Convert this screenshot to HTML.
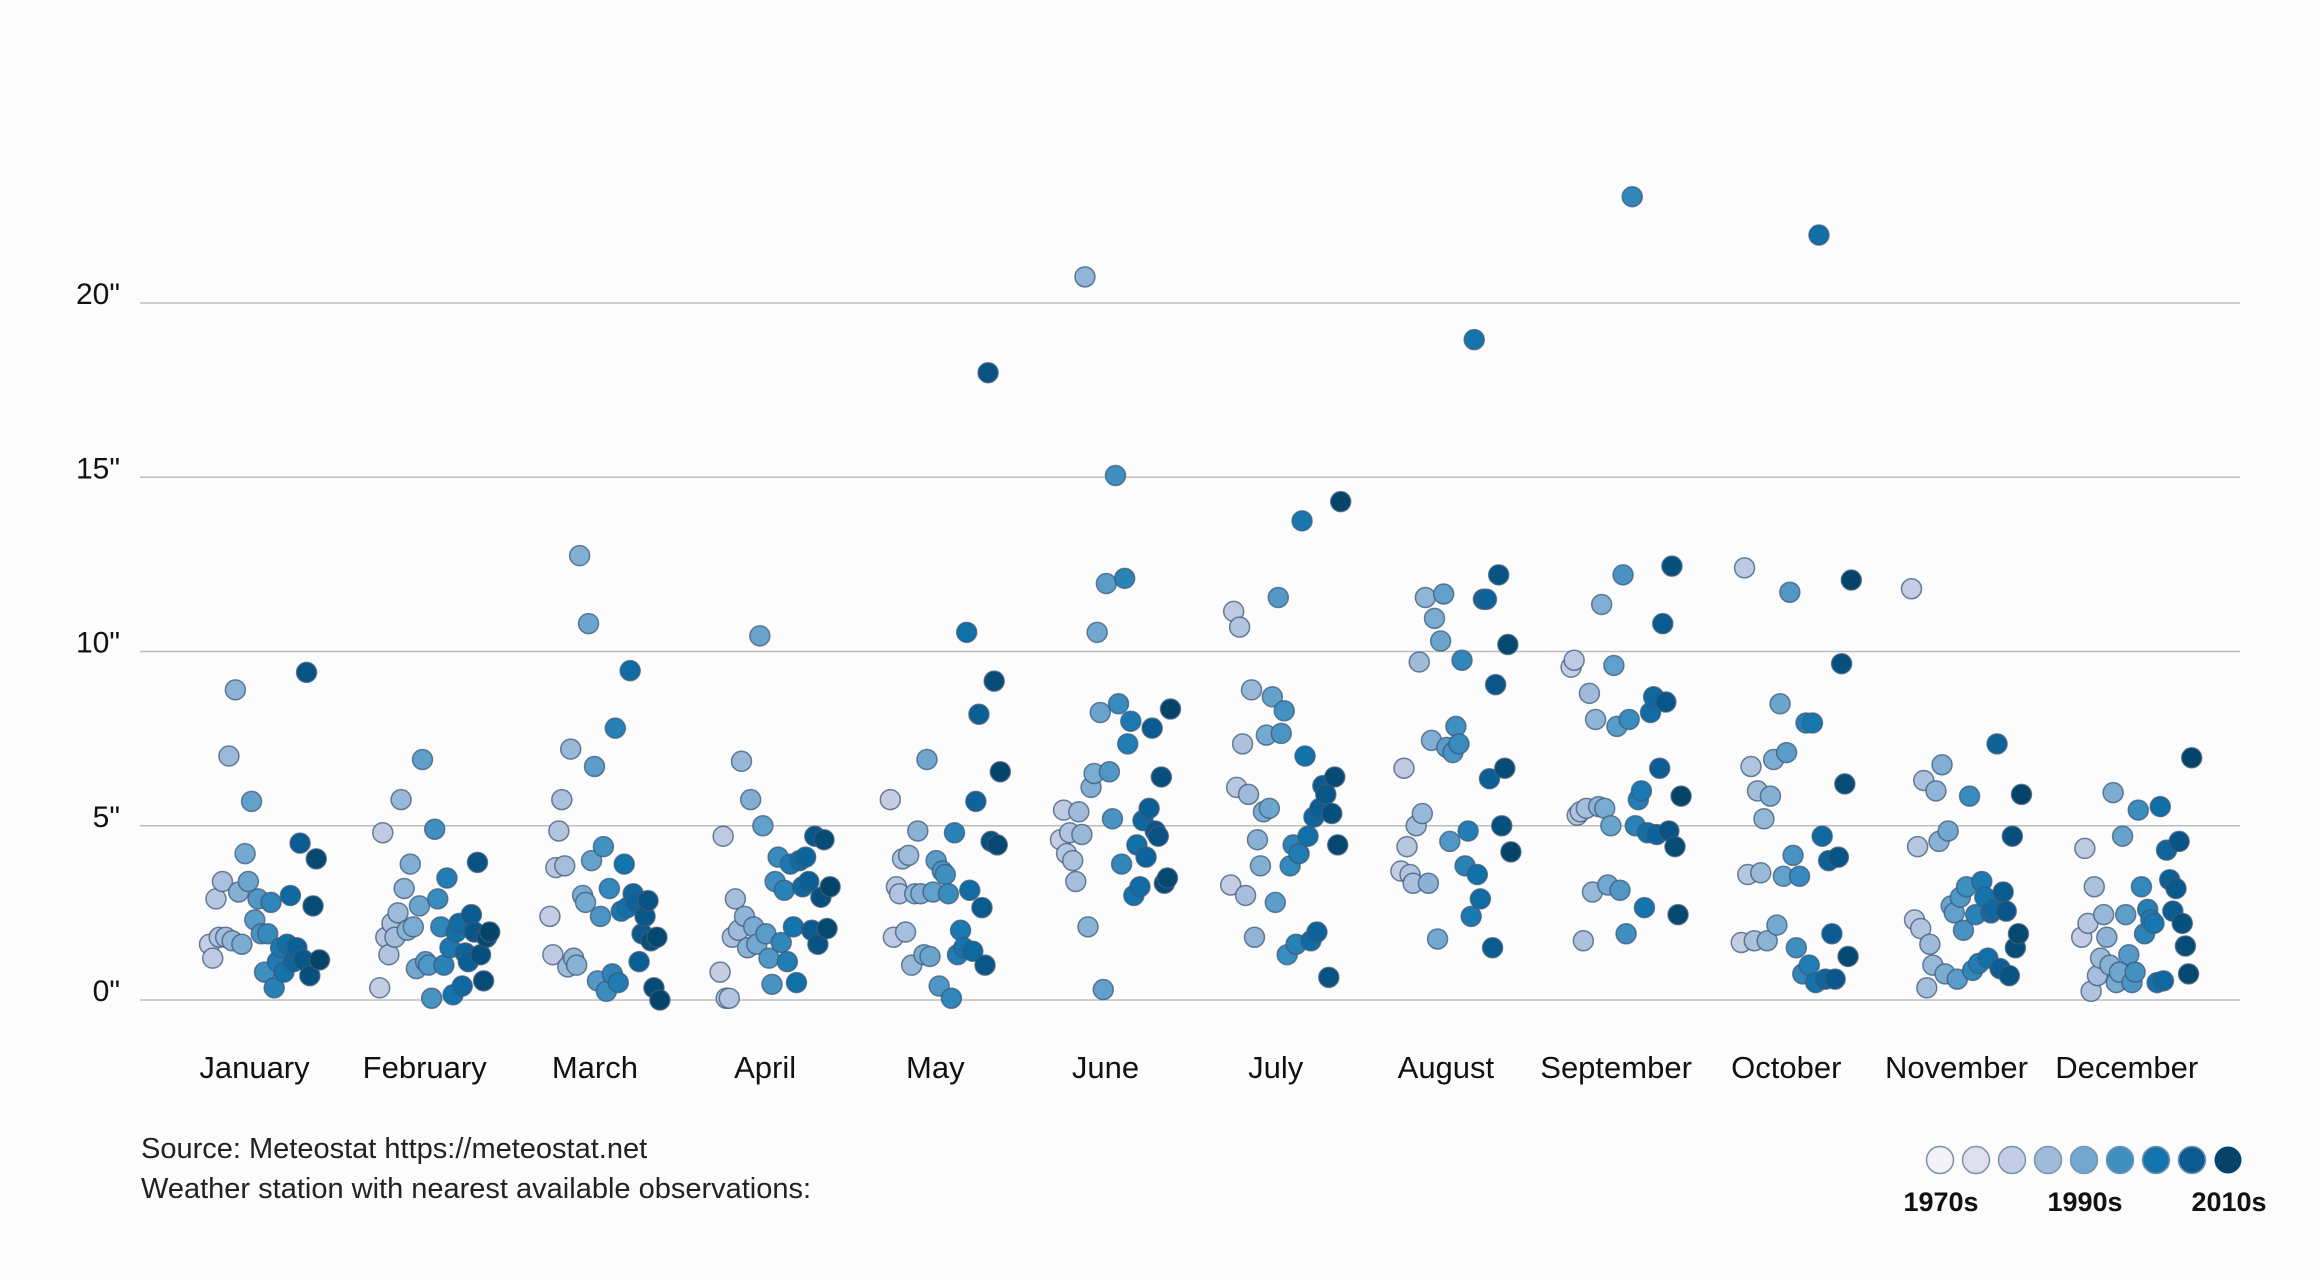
<!DOCTYPE html>
<html><head><meta charset="utf-8">
<style>
html,body{margin:0;padding:0;background:#fdfcfd;}
svg{display:block;font-family:"Liberation Sans",sans-serif;}
</style></head>
<body>
<svg id="chart" width="2320" height="1280" viewBox="0 0 2320 1280" xmlns="http://www.w3.org/2000/svg">
<rect width="2320" height="1280" fill="#fdfcfd"/>
<g id="grid"></g>
<g id="yticks"></g>
<g id="points"></g>
<g id="xlabels"></g>
<text x="141" y="1158" font-size="29" fill="#222" font-weight="300">Source: Meteostat https://meteostat.net</text>
<text x="141" y="1198" font-size="29" fill="#222" font-weight="300">Weather station with nearest available observations:</text>
<g id="legend"></g>
</svg>
<script>
const months = ["January","February","March","April","May","June","July","August","September","October","November","December"];
const yTicks = [0,5,10,15,20];
const palette = ["#f4f0f7","#e0dfee","#c5cde4","#9fbbd9","#72a8cf","#3f8fc0","#1474ae","#0a5b90","#044469"];
const legendLabels = ["1970s","1990s","2010s"];
const janVals = [1.6,1.2,2.9,1.8,3.4,1.8,7.0,1.7,8.9,3.1,1.6,4.2,3.4,5.7,2.3,2.9,1.9,0.8,1.9,2.8,0.35,1.1,1.5,0.8,1.6,3.0,1.1,1.5,4.5,1.15,9.4,0.7,2.7,4.05,1.15];
const febVals = [0.35,4.8,1.8,1.3,2.2,1.8,2.5,5.75,3.2,2.0,3.9,2.1,0.9,2.7,6.9,1.1,1.0,0.05,4.9,2.9,2.1,1.0,3.5,1.5,0.15,1.95,2.2,0.4,1.35,1.1,2.45,1.95,3.95,1.3,0.55,1.8,1.95];
const marVals = [2.4,1.3,3.8,4.85,5.75,3.85,0.95,7.2,1.2,1.0,12.75,3.0,2.8,10.8,4.0,6.7,0.55,2.4,4.4,0.25,3.2,0.75,7.8,0.5,2.55,3.9,2.65,9.45,3.05,2.8,1.1,1.9,2.4,2.85,1.7,0.35,1.8,0.0];
const aprVals = [0.8,4.7,0.05,0.05,1.8,2.9,2.0,6.85,2.4,1.5,5.75,2.1,1.6,10.45,5.0,1.9,1.2,0.45,3.4,4.1,1.65,3.15,1.1,3.9,2.1,0.5,4.0,3.25,4.1,3.4,2.0,4.7,1.6,2.95,4.6,2.05,3.25];
const mayVals = [5.75,1.8,3.25,3.05,4.05,1.95,4.15,1.0,3.05,4.85,3.05,1.3,6.9,1.25,3.1,4.0,0.4,3.7,3.6,3.05,0.05,4.8,1.3,2.0,1.5,10.55,3.15,1.4,5.7,8.2,2.65,1.0,18.0,4.55,9.15,4.45,6.55];
const junVals = [4.6,5.45,4.2,4.8,4.0,3.4,5.4,4.75,20.75,2.1,6.1,6.5,10.55,8.25,0.3,11.95,6.55,5.2,15.05,8.5,3.9,12.1,7.35,8.0,3.0,4.45,3.25,5.15,4.1,5.5,7.8,4.85,4.7,6.4,3.35,3.5,8.35];
const julVals = [3.3,11.15,6.1,10.7,7.35,3.0,5.9,8.9,1.8,4.6,3.85,5.4,7.6,5.5,8.7,2.8,11.55,7.65,8.3,1.3,3.85,4.45,1.6,4.2,13.75,7.0,4.7,1.7,5.25,1.95,5.5,6.15,5.9,0.65,5.35,6.4,4.45,14.3];
const augVals = [3.7,6.65,4.4,3.6,3.35,5.0,9.7,5.35,11.55,3.35,7.45,10.95,1.75,10.3,11.65,7.25,4.55,7.1,7.85,7.35,9.75,3.85,4.85,2.4,18.95,3.6,2.9,11.5,11.5,6.35,1.5,9.05,12.2,5.0,6.65,10.2,4.25];
const sepVals = [9.55,9.75,5.3,5.4,1.7,5.5,8.8,3.1,8.05,5.55,11.35,5.5,3.3,5.0,9.6,7.85,3.15,12.2,1.9,8.05,23.05,5.0,5.75,6.0,2.65,4.8,8.25,8.7,4.75,6.65,10.8,8.55,4.85,12.45,4.4,2.45,5.85];
const octVals = [1.65,12.4,3.6,6.7,1.7,6.0,3.65,5.2,1.7,5.85,6.9,2.15,8.5,3.55,7.1,11.7,4.15,1.5,3.55,0.75,7.95,1.0,7.95,0.5,21.95,4.7,0.6,4.0,1.9,0.6,4.1,9.65,6.2,1.25,12.05];
const novVals = [11.8,2.3,4.4,2.05,6.3,0.35,1.6,1.0,6.0,4.55,6.75,0.75,4.85,2.7,2.5,0.6,2.95,2.0,3.25,5.85,0.85,2.45,1.05,3.4,2.95,1.2,2.5,2.6,7.35,0.9,3.1,2.55,0.7,4.7,1.5,1.9,5.9];
const decVals = [1.8,4.35,2.2,0.25,3.25,0.7,1.2,2.45,1.8,1.0,5.95,0.5,0.8,4.7,2.45,1.3,0.5,0.8,5.45,3.25,1.9,2.6,2.3,2.2,0.5,5.55,0.55,4.3,3.45,2.55,3.2,4.55,2.2,1.55,0.75,6.95];
const monthVals = [janVals,febVals,marVals,aprVals,mayVals,junVals,julVals,augVals,sepVals,octVals,novVals,decVals];

const NS="http://www.w3.org/2000/svg";
const yScale = v => 1000 - v*34.85;
const xScale = i => 254.5 + 170.2*i;
const BAND = 110;
const PT_SHIFT = 10;
function mk(tag, attrs, parent){const e=document.createElementNS(NS,tag);for(const k in attrs)e.setAttribute(k,attrs[k]);parent.appendChild(e);return e;}
function hex(h){return [1,3,5].map(i=>parseInt(h.substr(i,2),16));}
function colorAt(t){const p=t*(palette.length-1);const i=Math.min(Math.floor(p),palette.length-2);const f=p-i;const a=hex(palette[i]),b=hex(palette[i+1]);return "rgb("+a.map((c,k)=>Math.round(c+(b[k]-c)*f)).join(",")+")";}

const grid=document.getElementById('grid'), yt=document.getElementById('yticks');
yTicks.forEach(v=>{
  const l=mk('line',{x1:140,x2:2240,y1:yScale(v),y2:yScale(v),stroke:"#bdbdbd","stroke-width":1.5},grid);
  
  
  const t=mk('text',{x:120,y:yScale(v)+1,"text-anchor":"end","font-size":30,fill:"#111"},yt);
  t.textContent=v+'"';
  
  
});
const pts=document.getElementById('points'), xl=document.getElementById('xlabels');
months.forEach((m,mi)=>{
  const vals=monthVals[mi], n=vals.length;
  vals.forEach((v,i)=>{
    const t=i/(n-1);
    const c=mk('circle',{cx:xScale(mi)+PT_SHIFT+(t-0.5)*BAND,cy:yScale(v),r:10,fill:colorAt(0.25+0.75*t),stroke:"rgba(60,90,120,0.75)","stroke-width":1.5},pts);
    
    
  });
  const t=mk('text',{x:xScale(mi),y:1078,"text-anchor":"middle","font-size":31,fill:"#111"},xl);
  t.textContent=m;
  
  
});
const lg=document.getElementById('legend');
palette.forEach((c,i)=>{
  const e=mk('circle',{cx:1940+36*i,cy:1160,r:13.5,fill:c,stroke:i<8?"#7a93a8":"none","stroke-width":1.5},lg);
  
  
});
legendLabels.forEach((s,i)=>{
  const t=mk('text',{x:1941+144*i,y:1211,"text-anchor":"middle","font-size":27,"font-weight":"bold",fill:"#111"},lg);
  t.textContent=s;
  
  
});
</script>
</body></html>
